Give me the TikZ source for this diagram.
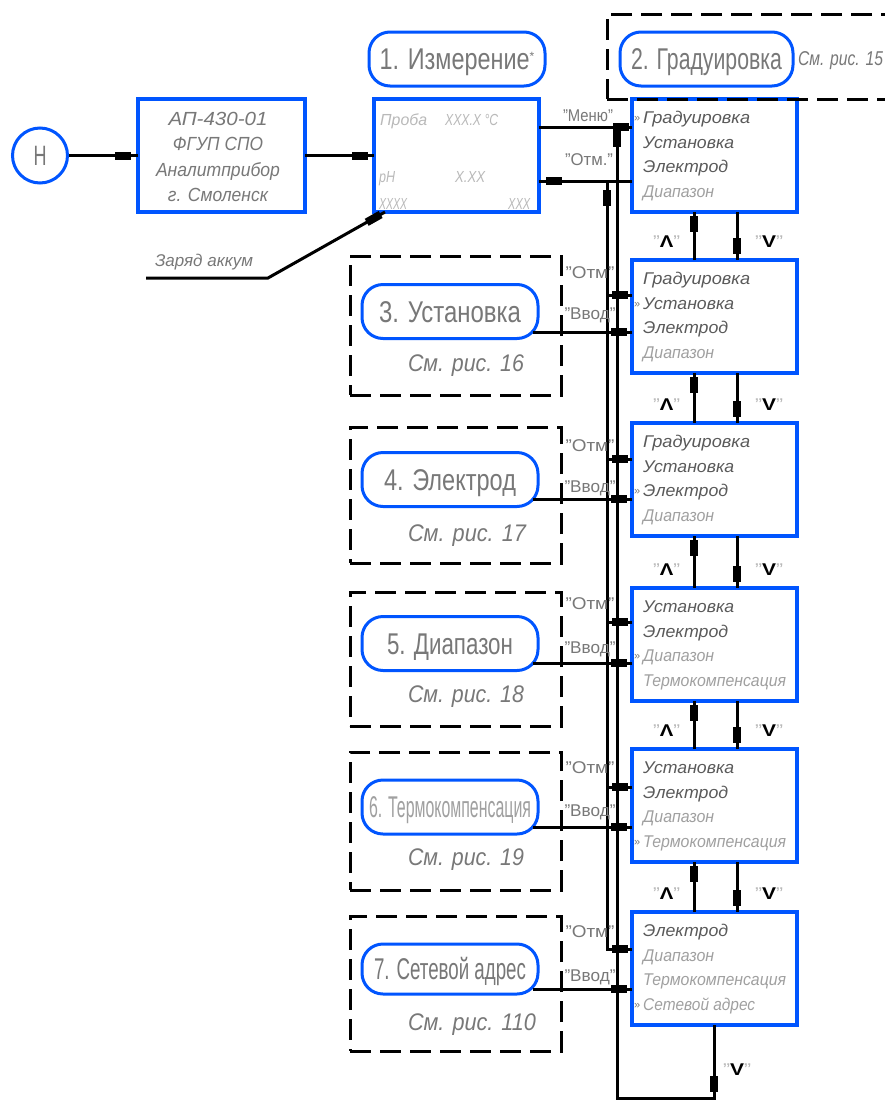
\documentclass[tikz,border=0pt]{standalone}
\usepackage{fontspec}
\usepackage{graphicx}
\setmainfont{Liberation Sans}
\usetikzlibrary{calc,decorations.markings}
\definecolor{bl}{RGB}{0,85,255}
\definecolor{tdark}{RGB}{90,90,90}
\definecolor{tmid}{RGB}{120,120,120}
\definecolor{tlight}{RGB}{160,160,160}
\definecolor{tpale}{RGB}{185,185,185}
\newcommand\fw[2]{\resizebox{#1pt}{\height}{#2}}
\newcommand\qq{\textcolor{tpale}{"}}
\newcommand\mitem[5]{\node[item,text=#3] (#1-#2) at ($(#1.north west)+(11,24.5*#2+24.5)$) {\fw{#4}{#5}};}
\newcommand\msel[2]{\node[selmark] (#1-s) at ($(#1.north west)+(2,24.5*#2+22.5)$) {»};}
\tikzset{
  conn/.style={line width=3pt},
  mk/.style={postaction={decorate,decoration={markings,mark=at position #1 with {\fill[black] (-8pt,-4pt) rectangle (8pt,4pt);}}}},
  menubox/.style={draw=bl,line width=3.2pt,minimum width=165pt,minimum height=113pt,anchor=north west,inner sep=0pt,outer sep=0pt},
  pill/.style={draw=bl,line width=3pt,rounded corners=21pt,minimum width=176pt,minimum height=54pt,inner sep=0pt,outer sep=0pt,text=tmid,font=\fontsize{30}{30}\selectfont,text height=21pt,text depth=0pt},
  dbox/.style={draw=black,line width=3pt,dash pattern=on 21pt off 9pt,anchor=north west,inner sep=0pt,outer sep=0pt,minimum width=211pt},
  item/.style={anchor=base west,inner sep=0pt,font=\itshape\fontsize{17}{17}\selectfont},
  selmark/.style={anchor=base west,inner sep=0pt,text=tmid,font=\fontsize{11}{11}\selectfont},
  lab/.style={inner sep=0pt,text=tmid,font=\fontsize{17}{17}\selectfont,text height=12pt,text depth=0pt},
  keylab/.style={inner sep=0pt,text=black,font=\fontsize{17}{17}\selectfont,text height=12pt,text depth=0pt},
  refnote/.style={inner sep=0pt,text=tmid,font=\itshape\fontsize{24}{24}\selectfont,text height=17pt,text depth=0pt},
  devtxt/.style={anchor=base,inner sep=0pt,text=tmid,font=\itshape\fontsize{19}{19}\selectfont},
  mtxt/.style={anchor=base west,inner sep=0pt,text=tpale,font=\itshape\fontsize{16}{16}\selectfont},
}
\begin{document}
\begin{tikzpicture}[x=1pt,y=-1pt]
\useasboundingbox (0,0) rectangle (885,1101);
\fill[white] (0,0) rectangle (885,1101);

% start circle and device box
\node[circle,draw=bl,line width=3pt,minimum size=55pt,inner sep=0pt,text=tmid,font=\fontsize{28}{28}\selectfont,text height=20pt,text depth=0pt] (H) at (40,155.5) {\fw{13}{Н}};
\node[draw=bl,line width=3.2pt,minimum width=167pt,minimum height=113pt,inner sep=0pt,outer sep=0pt] (dev) at (221.5,155.5) {};
\node[devtxt] (dev1) at (218,125) {\fw{99}{АП-430-01}};
\node[devtxt] (dev2) at (218,150) {\fw{90}{ФГУП СПО}};
\node[devtxt] (dev3) at (218,176) {\fw{124}{Аналитприбор}};
\node[devtxt] (dev4) at (218,201) {\fw{100}{г. Смоленск}};

% measurement screen
\node[menubox] (meas) at (374,99) {};
\node[mtxt] (m1) at (380,125) {\fw{47}{Проба}};
\node[mtxt] (m2) at (445,125) {\fw{53}{XXX.X °C}};
\node[mtxt] (m3) at (379,182) {\fw{16}{pH}};
\node[mtxt] (m4) at (455,182) {\fw{30}{X.XX}};
\node[mtxt] (m5) at (379,209) {\fw{28}{XXXX}};
\node[mtxt] (m6) at (508,209) {\fw{22}{XXX}};

\node[pill] (p1) at (457,59) {\fw{150}{1. Измерение}\raisebox{9pt}{\fontsize{12}{12}\selectfont *}};
\node[pill,minimum width=173pt] (p2) at (706.5,59) {\fw{151}{2. Градуировка}};
\node[refnote,font=\itshape\fontsize{20}{20}\selectfont,text height=15pt] (r2) at (840.5,58) {\fw{85}{См. рис. 15}};

% charge label
\node[anchor=base,inner sep=0pt,text=tmid,font=\itshape\fontsize{17}{17}\selectfont] (zar) at (204,266) {\fw{98}{Заряд аккум}};
\coordinate (zl) at (146,278);
\coordinate (zr) at (268,278);

% menu boxes
\node[menubox] (bA) at (632,99) {};
\node[menubox] (bB) at (632,260) {};
\node[menubox] (bC) at (632,423) {};
\node[menubox] (bD) at (632,588) {};
\node[menubox] (bE) at (632,749) {};
\node[menubox] (bF) at (632,912) {};

\msel{bA}{0}
\mitem{bA}{0}{tdark}{107}{Градуировка}
\mitem{bA}{1}{tdark}{91}{Установка}
\mitem{bA}{2}{tdark}{85}{Электрод}
\mitem{bA}{3}{tlight}{71}{Диапазон}

\msel{bB}{1}
\mitem{bB}{0}{tdark}{107}{Градуировка}
\mitem{bB}{1}{tdark}{91}{Установка}
\mitem{bB}{2}{tdark}{85}{Электрод}
\mitem{bB}{3}{tlight}{71}{Диапазон}

\msel{bC}{2}
\mitem{bC}{0}{tdark}{107}{Градуировка}
\mitem{bC}{1}{tdark}{91}{Установка}
\mitem{bC}{2}{tdark}{85}{Электрод}
\mitem{bC}{3}{tlight}{71}{Диапазон}

\msel{bD}{2}
\mitem{bD}{0}{tdark}{91}{Установка}
\mitem{bD}{1}{tdark}{85}{Электрод}
\mitem{bD}{2}{tlight}{71}{Диапазон}
\mitem{bD}{3}{tlight}{143}{Термокомпенсация}

\msel{bE}{3}
\mitem{bE}{0}{tdark}{91}{Установка}
\mitem{bE}{1}{tdark}{85}{Электрод}
\mitem{bE}{2}{tlight}{71}{Диапазон}
\mitem{bE}{3}{tlight}{143}{Термокомпенсация}

\msel{bF}{3}
\mitem{bF}{0}{tdark}{85}{Электрод}
\mitem{bF}{1}{tlight}{71}{Диапазон}
\mitem{bF}{2}{tlight}{143}{Термокомпенсация}
\mitem{bF}{3}{tlight}{112}{Сетевой адрес}

% dashed groups
\node[dbox,minimum width=300pt,minimum height=85pt] (d2) at (607,14) {};
\node[dbox,minimum height=139pt] (d3) at (350,256) {};
\node[dbox,minimum height=136pt] (d4) at (350,427) {};
\node[dbox,minimum height=134pt] (d5) at (350,592) {};
\node[dbox,minimum height=138pt] (d6) at (350,752) {};
\node[dbox,minimum height=135pt] (d7) at (350,916) {};

\node[pill] (p3) at (450,311.5) {\fw{142}{3. Установка}};
\node[pill] (p4) at (450,479.5) {\fw{132}{4. Электрод}};
\node[pill] (p5) at (450,643.5) {\fw{126}{5. Диапазон}};
\node[pill,text=tlight] (p6) at (450,807) {\fw{162}{6. Термокомпенсация}};
\node[pill,minimum height=50pt] (p7) at (450,969) {\fw{152}{7. Сетевой адрес}};

\node[refnote] (r3) at (466,363) {\fw{116}{См. рис. 16}};
\node[refnote] (r4) at (467,533) {\fw{118}{См. рис. 17}};
\node[refnote] (r5) at (466,694) {\fw{116}{См. рис. 18}};
\node[refnote] (r6) at (466,857) {\fw{116}{См. рис. 19}};
\node[refnote] (r7) at (472,1022) {\fw{128}{См. рис. 110}};

% junction coordinates
\coordinate (jO) at (607,181);
\coordinate (jM) at (617,127);
\coordinate (wc) at (617,1098);

% connectors
\draw[conn,mk=-15.5pt] (H) -- (dev);
\draw[conn,mk=-14.5pt] (dev) -- (meas);
\draw[conn,mk=-13pt] (zl) -- (zr) -- ($(meas.south west)+(11,0)$);
\draw[conn,mk=-11pt] ($(meas.north east)+(0,28)$) -- ($(bA.north west)+(0,28)$);
\draw[conn,mk=-14.5pt] ($(bA.north west)+(0,82)$) -- ($(meas.north east)+(0,82)$);
\draw[conn,mk=12pt,mk=-16.5pt] ($(bF.north west)+(0,37)$) -| (jO);
\draw[conn,mk=59pt,mk=-12pt] ($(bF.south west)+(82,0)$) |- (wc) -- (jM);

\coordinate (oB) at ($(bB.north west)+(0,35)$);
\coordinate (vB) at ($(bB.north west)+(0,72)$);
\coordinate (oC) at ($(bC.north west)+(0,36)$);
\coordinate (vC) at ($(bC.north west)+(0,76)$);
\coordinate (oD) at ($(bD.north west)+(0,34)$);
\coordinate (vD) at ($(bD.north west)+(0,75)$);
\coordinate (oE) at ($(bE.north west)+(0,38)$);
\coordinate (vE) at ($(bE.north west)+(0,78)$);
\coordinate (vF) at ($(bF.north west)+(0,77)$);

\draw[conn,mk=12pt] (oB) -- (oB -| jO);
\draw[conn,mk=12pt] (oC) -- (oC -| jO);
\draw[conn,mk=12pt] (oD) -- (oD -| jO);
\draw[conn,mk=12pt] (oE) -- (oE -| jO);
\draw[conn,mk=13pt] (vB) -- ($(vB -| p3.east)+(-5,0)$);
\draw[conn,mk=13pt] (vC) -- ($(vC -| p4.east)+(-5,0)$);
\draw[conn,mk=13pt] (vD) -- ($(vD -| p5.east)+(-5,0)$);
\draw[conn,mk=13pt] (vE) -- ($(vE -| p6.east)+(-5,0)$);
\draw[conn,mk=13pt] (vF) -- ($(vF -| p7.east)+(-5,0)$);

% up / down transitions
\foreach \u/\l in {bA/bB,bB/bC,bC/bD,bD/bE,bE/bF}{
  \draw[conn,mk=-11.5pt] ($(\l.north west)+(62,0)$) -- ($(\u.south west)+(62,0)$);
  \draw[conn,mk=-14.5pt] ($(\u.south west)+(105,0)$) -- ($(\l.north west)+(105,0)$);
  \node[keylab] (up-\u) at ($(\l.north west)+(34.5,-19)$) {\fw{27}{\qq\textbf{Λ}\qq}};
  \node[keylab] (dn-\u) at ($(\l.north west)+(137,-19)$) {\fw{28}{\qq\textbf{V}\qq}};
}
\node[keylab] (dn-bF) at (737,1069) {\fw{28}{\qq\textbf{V}\qq}};

% line labels
\node[lab] (lM) at (588,115) {\fw{50}{"Меню"}};
\node[lab] (lO) at (589,159) {\fw{48}{"Отм."}};
\node[lab] (lOB) at (590,272) {\fw{49}{"Отм"}};
\node[lab] (lVB) at (590,313) {\fw{51}{"Ввод"}};
\node[lab] (lOC) at (590,445) {\fw{49}{"Отм"}};
\node[lab] (lVC) at (590,486) {\fw{51}{"Ввод"}};
\node[lab] (lOD) at (590,603) {\fw{49}{"Отм"}};
\node[lab] (lVD) at (590,647) {\fw{51}{"Ввод"}};
\node[lab] (lOE) at (590,767) {\fw{49}{"Отм"}};
\node[lab] (lVE) at (590,810) {\fw{51}{"Ввод"}};
\node[lab] (lOF) at (590,931) {\fw{49}{"Отм"}};
\node[lab] (lVF) at (590,975) {\fw{51}{"Ввод"}};
\end{tikzpicture}
\end{document}
